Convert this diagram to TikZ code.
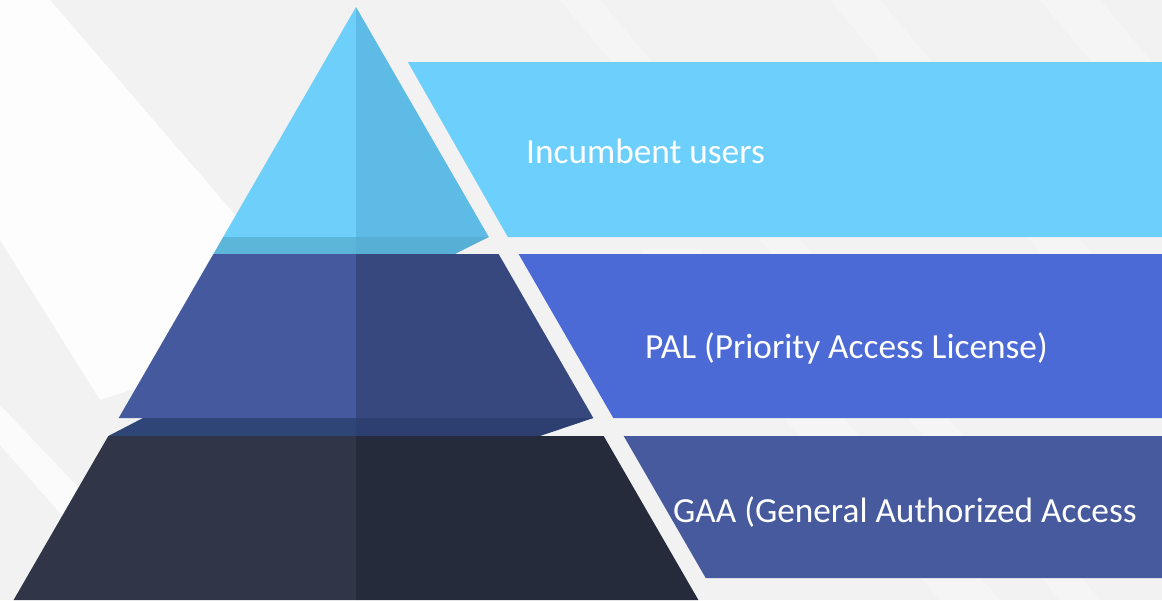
\documentclass[tikz,border=0pt]{standalone}
\usepackage{fontspec}
\setmainfont{Carlito}
\definecolor{bg}{HTML}{F2F2F2}
\definecolor{topL}{HTML}{6ECFFB}
\definecolor{topR}{HTML}{5EBBE5}
\definecolor{topBandL}{HTML}{5BB6DA}
\definecolor{topBandR}{HTML}{57AFD5}
\definecolor{topRect}{HTML}{6DD0FC}
\definecolor{midL}{HTML}{45599E}
\definecolor{midR}{HTML}{37487F}
\definecolor{midBandL}{HTML}{2F4477}
\definecolor{midBandR}{HTML}{2C3F70}
\definecolor{midRect}{HTML}{4B6AD5}
\definecolor{botL}{HTML}{303548}
\definecolor{botR}{HTML}{252B3B}
\definecolor{botRect}{HTML}{465A9D}
\begin{document}
\begin{tikzpicture}[x=1pt,y=-1pt,
  lbl/.style={text=white,inner sep=0pt,anchor=base west,font=\fontsize{35.3}{42}\selectfont},
  beam/.style={fill=white,draw=none}]
\useasboundingbox (0,0) rectangle (1162,600);
\clip (0,0) rectangle (1162,600);
% background
\fill[bg] (0,0) rectangle (1162,600);
\fill[beam,opacity=0.85] (0,0) -- (50,0) -- (330,325) -- (100,400) -- (0,240) -- cycle;
\fill[beam,opacity=0.7] (0,405) -- (95,505) -- (75,530) -- (0,445) -- cycle;
\fill[beam,opacity=0.3] (560,0) -- (600,0) -- (1100,600) -- (1060,600) -- cycle;
\fill[beam,opacity=0.3] (830,0) -- (880,0) -- (1380,600) -- (1330,600) -- cycle;
\fill[beam,opacity=0.3] (1040,0) -- (1100,0) -- (1600,600) -- (1540,600) -- cycle;
\fill[beam,opacity=0.25] (640,250) -- (700,250) -- (1000,600) -- (940,600) -- cycle;
% top layer
\fill[topL] (356,7) -- (223.2,237) -- (356,237) -- cycle;
\fill[topR] (356,7) -- (488.8,237) -- (356,237) -- cycle;
\fill[topBandL] (223.2,237) -- (356,237) -- (356,254) -- (213.4,254) -- cycle;
\fill[topBandR] (356,237) -- (488.8,237) -- (455,254) -- (356,254) -- cycle;
% middle layer
\fill[midL] (213.4,254) -- (356,254) -- (356,418) -- (118.7,418) -- cycle;
\fill[midR] (356,254) -- (498.6,254) -- (593.3,418) -- (356,418) -- cycle;
\fill[midBandL] (143,418) -- (356,418) -- (356,436) -- (108.3,436) -- cycle;
\fill[midBandR] (356,418) -- (593.3,418) -- (540,436) -- (356,436) -- cycle;
% bottom layer
\fill[botL] (108.3,436) -- (356,436) -- (356,600) -- (13.6,600) -- cycle;
\fill[botR] (356,436) -- (603.7,436) -- (698.4,600) -- (356,600) -- cycle;
% right bars
\fill[topRect] (407.8,62) -- (1170,62) -- (1170,237) -- (507.8,237) -- cycle;
\fill[midRect] (518.6,254) -- (1170,254) -- (1170,418) -- (613.3,418) -- cycle;
\fill[botRect] (623.7,436) -- (1170,436) -- (1170,578) -- (705.7,578) -- cycle;
% labels
\node[lbl] (t1) at (526,163) {Incumbent users};
\node[lbl] (t2) at (645,358) {PAL (Priority Access License)};
\node[lbl] (t3) at (673,522) {GAA (General Authorized Access};
\end{tikzpicture}
\end{document}
